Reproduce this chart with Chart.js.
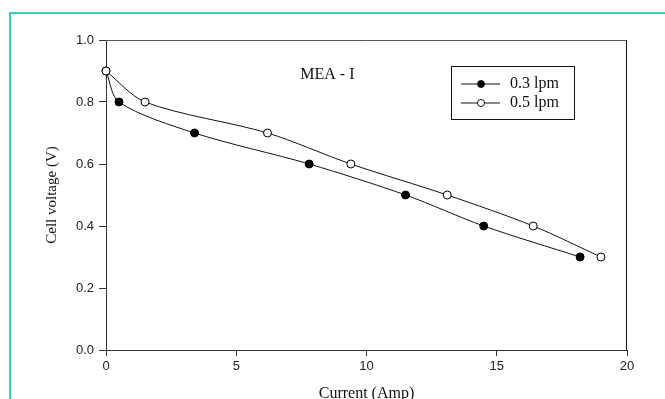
<!DOCTYPE html>
<html>
<head>
<meta charset="utf-8">
<script src="https://cdn.jsdelivr.net/npm/chart.js@4/dist/chart.umd.min.js"></script>
<style>
  html, body { margin: 0; padding: 0; background: #fff; overflow: hidden; }
  #frame { position: absolute; left: 9px; top: 12px; width: 700px; height: 450px; border-left: 2px solid #3ccdb6; border-top: 2px solid #3ccdb6; }
  canvas { position: absolute; left: 0; top: 0; }
</style>
</head>
<body>
<div id="frame"></div>
<canvas id="grafico" width="665" height="399"></canvas>
<script>
// valores
const corrente03 = [0, 0.5, 3.4, 7.8, 11.5, 14.5, 18.2];
const tensao03 = [0.9, 0.8, 0.7, 0.6, 0.5, 0.4, 0.3];
const corrente05 = [0, 1.5, 6.2, 9.4, 13.1, 16.4, 19.0];
const tensao05 = [0.9, 0.8, 0.7, 0.6, 0.5, 0.4, 0.3];
const rotulos = ["0.3 lpm", "0.5 lpm"];
const ticksX = [0, 5, 10, 15, 20];
const ticksY = [0, 0.2, 0.4, 0.6, 0.8, 1.0];
const anotacao = { texto: "MEA - I", x: 8.5, y: 0.887 };

const serif = "'Liberation Serif', 'Times New Roman', serif";
const sans = "'Liberation Sans', Arial, sans-serif";

const pontos = (xs, ys) => xs.map((x, i) => ({ x, y: ys[i] }));

const molduraPlugin = {
    id: 'moldura',
    afterDraw(chart) {
        const { ctx, chartArea: a, scales } = chart;
        ctx.save();
        // topo e lado direito do quadro
        ctx.strokeStyle = '#555';
        ctx.lineWidth = 1;
        ctx.beginPath();
        ctx.moveTo(a.left, a.top + 0.5);
        ctx.lineTo(a.right, a.top + 0.5);
        ctx.stroke();
        ctx.strokeStyle = '#111';
        ctx.beginPath();
        ctx.moveTo(a.right - 0.5, a.top);
        ctx.lineTo(a.right - 0.5, a.bottom);
        ctx.stroke();

        // anotação
        ctx.fillStyle = '#111';
        ctx.font = '16px ' + serif;
        ctx.textAlign = 'center';
        ctx.textBaseline = 'middle';
        ctx.fillText(anotacao.texto, scales.x.getPixelForValue(anotacao.x), scales.y.getPixelForValue(anotacao.y));

        // legenda
        const bx = 451.5, by = 66.5, bw = 123, bh = 53;
        ctx.strokeStyle = '#111';
        ctx.strokeRect(bx, by, bw, bh);
        const linhas = [84, 103];
        const ordem = [0, 1];
        ordem.forEach(i => {
            const ds = chart.data.datasets[i];
            const y = linhas[i];
            ctx.strokeStyle = '#111';
            ctx.beginPath();
            ctx.moveTo(461, y);
            ctx.lineTo(500, y);
            ctx.stroke();
            ctx.beginPath();
            ctx.arc(481, y, 3.5, 0, Math.PI * 2);
            ctx.fillStyle = ds.pointBackgroundColor;
            ctx.fill();
            ctx.stroke();
            ctx.fillStyle = '#111';
            ctx.textAlign = 'left';
            ctx.font = '16px ' + serif;
            ctx.fillText(ds.label, 510, y);
        });
        ctx.restore();
    }
};

const main = () => {
    const ctx = document.getElementById('grafico');
    new Chart(ctx, {
        type: 'line',
        data: {
            datasets: [
                {
                    label: rotulos[0],
                    data: pontos(corrente03, tensao03),
                    order: 1,
                    borderColor: '#111',
                    borderWidth: 1,
                    pointRadius: 4,
                    pointBorderWidth: 1,
                    pointBackgroundColor: '#000',
                    pointBorderColor: '#000',
                    tension: 0.3,
                    clip: false,
                    fill: false
                },
                {
                    label: rotulos[1],
                    data: pontos(corrente05, tensao05),
                    order: 0,
                    borderColor: '#111',
                    borderWidth: 1,
                    pointRadius: 4,
                    pointBorderWidth: 1,
                    pointBackgroundColor: '#fff',
                    pointBorderColor: '#000',
                    tension: 0.3,
                    clip: false,
                    fill: false
                }
            ]
        },
        options: {
            responsive: false,
            animation: false,
            devicePixelRatio: 1,
            layout: { padding: { left: 0, top: 40, right: 38, bottom: 0 } },
            plugins: { legend: { display: false }, tooltip: { enabled: false } },
            scales: {
                x: {
                    type: 'linear',
                    min: 0, max: 20,
                    afterBuildTicks: s => { s.ticks = ticksX.map(v => ({ value: v })); },
                    afterFit: s => { s.height = 49; },
                    grid: { drawOnChartArea: false, tickLength: 6, color: '#333' },
                    border: { color: '#333', width: 1 },
                    ticks: { color: '#222', font: { family: sans, size: 13 }, padding: 3, maxRotation: 0 },
                    title: { display: true, text: 'Current (Amp)', color: '#111', font: { family: serif, size: 16, lineHeight: 1 }, padding: { top: 0, bottom: -3 } }
                },
                y: {
                    type: 'linear',
                    min: 0, max: 1,
                    afterBuildTicks: s => { s.ticks = ticksY.map(v => ({ value: v })); },
                    afterFit: s => { s.width = 106; },
                    grid: { drawOnChartArea: false, tickLength: 7, color: '#333' },
                    border: { color: '#333', width: 1 },
                    ticks: { color: '#222', font: { family: sans, size: 13 }, padding: 5, callback: v => v.toFixed(1) },
                    title: { display: true, text: 'Cell voltage (V)', color: '#111', font: { family: serif, size: 15, lineHeight: 1 }, padding: { top: 45, bottom: 0 } }
                }
            }
        },
        plugins: [molduraPlugin]
    });
};
main();
</script>
</body>
</html>
